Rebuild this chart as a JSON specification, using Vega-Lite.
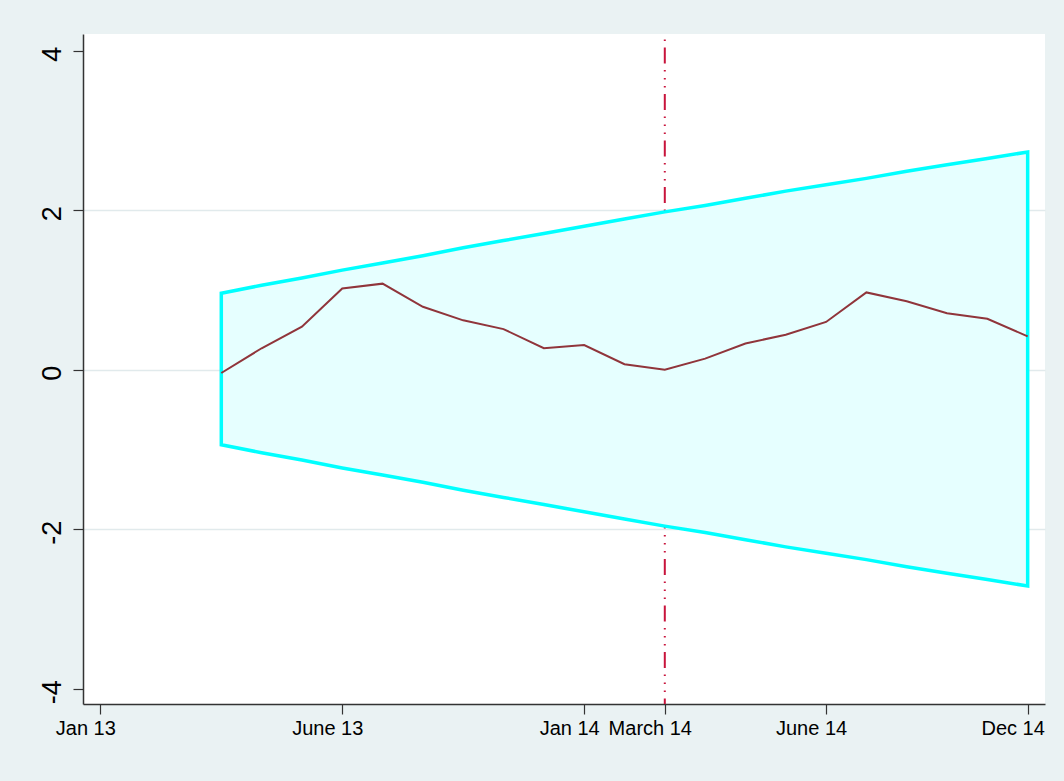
{
  "$schema": "https://vega.github.io/schema/vega-lite/v6.json",
  "width": 962,
  "height": 670,
  "autosize": "none",
  "padding": {"left": 83, "top": 34, "right": 19, "bottom": 77},
  "background": "#EAF2F3",
  "config": {
    "view": {"fill": "white", "stroke": null},
    "font": "Liberation Sans"
  },
  "data": {
    "values": [
      {"t": 3, "value": -0.04, "upper": 0.96, "lower": -0.94},
      {"t": 4, "value": 0.27, "upper": 1.06, "lower": -1.04},
      {"t": 5, "value": 0.54, "upper": 1.15, "lower": -1.13},
      {"t": 6, "value": 1.02, "upper": 1.25, "lower": -1.23},
      {"t": 7, "value": 1.08, "upper": 1.34, "lower": -1.32},
      {"t": 8, "value": 0.79, "upper": 1.43, "lower": -1.41},
      {"t": 9, "value": 0.62, "upper": 1.53, "lower": -1.51},
      {"t": 10, "value": 0.51, "upper": 1.62, "lower": -1.6},
      {"t": 11, "value": 0.27, "upper": 1.71, "lower": -1.69},
      {"t": 12, "value": 0.31, "upper": 1.8, "lower": -1.78},
      {"t": 13, "value": 0.07, "upper": 1.89, "lower": -1.87},
      {"t": 14, "value": 0.0, "upper": 1.98, "lower": -1.96},
      {"t": 15, "value": 0.14, "upper": 2.06, "lower": -2.04},
      {"t": 16, "value": 0.33, "upper": 2.15, "lower": -2.13},
      {"t": 17, "value": 0.44, "upper": 2.24, "lower": -2.22},
      {"t": 18, "value": 0.6, "upper": 2.32, "lower": -2.3},
      {"t": 19, "value": 0.97, "upper": 2.4, "lower": -2.38},
      {"t": 20, "value": 0.86, "upper": 2.49, "lower": -2.47},
      {"t": 21, "value": 0.71, "upper": 2.57, "lower": -2.55},
      {"t": 22, "value": 0.64, "upper": 2.65, "lower": -2.63},
      {"t": 23, "value": 0.42, "upper": 2.73, "lower": -2.71}
    ]
  },
  "encoding": {
    "x": {
      "field": "t",
      "type": "quantitative",
      "scale": {"domain": [-0.43, 23.43], "nice": false, "zero": false},
      "axis": {
        "title": null,
        "grid": false,
        "values": [0, 6, 12, 14, 18, 23],
        "labelExpr": "datum.value == 0 ? 'Jan 13' : datum.value == 6 ? 'June 13' : datum.value == 12 ? 'Jan 14' : datum.value == 14 ? 'March 14' : datum.value == 18 ? 'June 14' : 'Dec 14'",
        "domainColor": "#333333",
        "domainWidth": 1.5,
        "tickColor": "#333333",
        "tickWidth": 1.2,
        "tickSize": 10,
        "labelFontSize": 20,
        "labelColor": "#000000",
        "labelPadding": 4,
        "labelOffset": -15,
        "labelOverlap": false,
        "labelFlush": false,
        "labelBound": false
      }
    }
  },
  "layer": [
    {
      "data": {"values": [{"t": 14}]},
      "mark": {
        "type": "rule",
        "color": "#c8143c",
        "strokeWidth": 2,
        "strokeDash": [16, 6.5, 1.5, 6.5, 1.5, 6.5, 1.5, 6.5],
        "strokeDashOffset": 32.9
      },
      "encoding": {}
    },
    {
      "mark": {
        "type": "area",
        "fill": "#E6FFFF",
        "fillOpacity": 1,
        "stroke": "#00FFFF",
        "strokeWidth": 3.5,
        "strokeJoin": "miter"
      },
      "encoding": {
        "y": {
          "field": "upper",
          "type": "quantitative",
          "scale": {"domain": [-4.19, 4.21], "nice": false, "zero": false},
          "axis": {
            "title": null,
            "values": [-4, -2, 0, 2, 4],
            "labelExpr": "datum.value + ''",
            "grid": true,
            "gridColor": "#E1EAEC",
            "gridWidth": 1.5,
            "gridOpacity": {"condition": {"test": "abs(datum.value) > 3", "value": 0}, "value": 1},
            "domainColor": "#333333",
            "domainWidth": 1.5,
            "tickColor": "#333333",
            "tickWidth": 1.2,
            "tickSize": 10,
            "labelAngle": 270,
            "labelAlign": "center",
            "labelBaseline": "alphabetic",
            "labelFontSize": 27,
            "labelColor": "#000000",
            "labelPadding": 12.5,
            "labelOffset": 3,
            "labelFlush": false,
            "labelBound": false,
            "labelOverlap": false
          }
        },
        "y2": {"field": "lower"}
      }
    },
    {
      "mark": {"type": "line", "color": "#90353B", "strokeWidth": 2},
      "encoding": {
        "y": {"field": "value", "type": "quantitative"}
      }
    }
  ]
}
